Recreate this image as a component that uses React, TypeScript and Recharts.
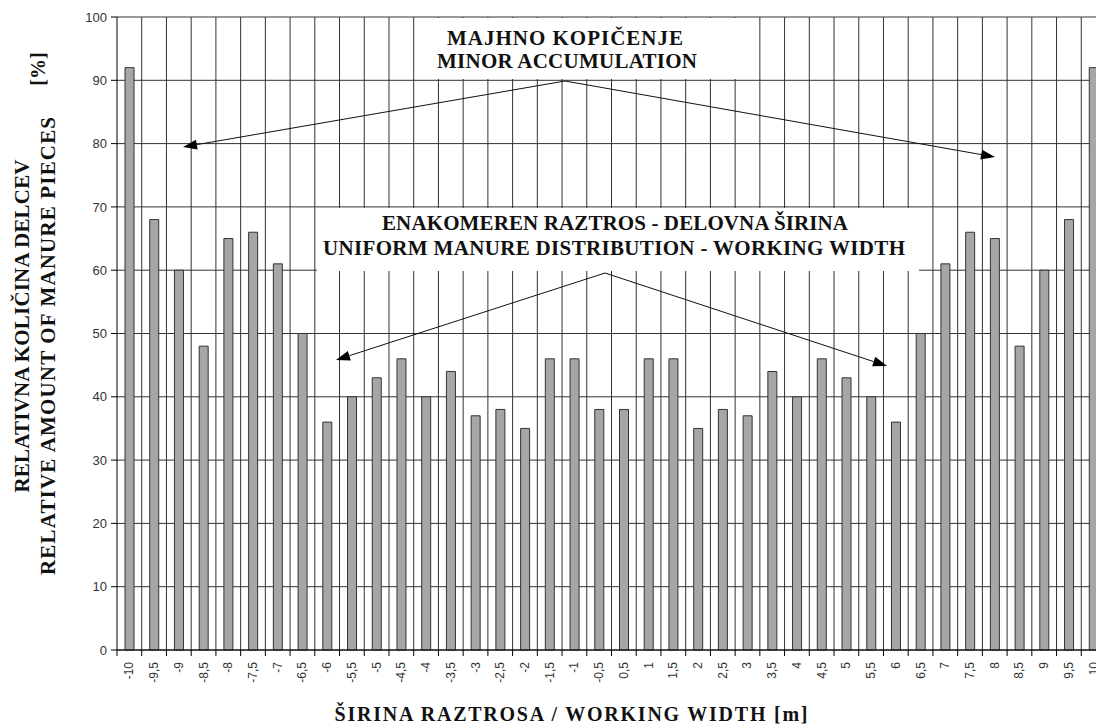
import { BarChart, Bar, XAxis, YAxis, CartesianGrid } from 'recharts';

// working width positions [m] (no 0 in the original)
const widths = [
  -10, -9.5, -9, -8.5, -8, -7.5, -7, -6.5, -6, -5.5, -5, -4.5, -4, -3.5, -3, -2.5, -2, -1.5, -1, -0.5,
  0.5, 1, 1.5, 2, 2.5, 3, 3.5, 4, 4.5, 5, 5.5, 6, 6.5, 7, 7.5, 8, 8.5, 9, 9.5, 10,
];
// relative amount of manure pieces [%]
const amounts = [
  92, 68, 60, 48, 65, 66, 61, 50, 36, 40, 43, 46, 40, 44, 37, 38, 35, 46, 46, 38,
  38, 46, 46, 35, 38, 37, 44, 40, 46, 43, 40, 36, 50, 61, 66, 65, 48, 60, 68, 92,
];
const yTicks = [0, 10, 20, 30, 40, 50, 60, 70, 80, 90, 100];

const data = widths.map((w, i) => ({ width: w, amount: amounts[i] }));

const CHART_W = 1110;
const CHART_H = 724;
const MARGIN = { top: 17, right: 4, left: 57, bottom: 12 };
const Y_AXIS_W = 60;
const X_AXIS_H = 62;
const PLOT_W = CHART_W - MARGIN.left - Y_AXIS_W - MARGIN.right;
const STEP = PLOT_W / widths.length;

const SANS = '"Liberation Sans", Arial, sans-serif';
const SERIF = '"Liberation Serif", "Times New Roman", Times, serif';

const fmt = (v: number) => String(v).replace('.', ',');

function WidthTick({ x, y, payload }: any) {
  const bx = x - STEP / 2;
  return (
    <g>
      <line x1={bx} x2={bx} y1={y - 12} y2={y - 6} stroke="#000" />
      <text
        x={x}
        y={y}
        transform={`rotate(-90 ${x} ${y})`}
        textAnchor="end"
        dominantBaseline="central"
        fontFamily={SANS}
        fontSize={12}
        fill="#333"
      >
        {fmt(payload.value)}
      </text>
    </g>
  );
}

function Arrow({ x1, y1, x2, y2 }: { x1: number; y1: number; x2: number; y2: number }) {
  const dx = x2 - x1;
  const dy = y2 - y1;
  const len = Math.hypot(dx, dy);
  const ux = dx / len;
  const uy = dy / len;
  const hl = 14;
  const hw = 5;
  const bx = x2 - ux * hl;
  const by = y2 - uy * hl;
  const pts = `${x2},${y2} ${bx - uy * hw},${by + ux * hw} ${bx + uy * hw},${by - ux * hw}`;
  return (
    <g>
      <line x1={x1} y1={y1} x2={bx} y2={by} stroke="#111" strokeWidth={1} />
      <polygon points={pts} fill="#000" />
    </g>
  );
}

function Overlay() {
  const bold = { fontFamily: SERIF, fontWeight: 700, fill: '#111' } as const;
  return (
    <svg
      width={1096}
      height={724}
      style={{ position: 'absolute', left: 0, top: 0, pointerEvents: 'none' }}
    >
      {/* minor accumulation box */}
      <rect x={415} y={18} width={322} height={61} fill="#fff" />
      <text x={565} y={45} textAnchor="middle" fontSize={21} textLength={236} lengthAdjust="spacing" {...bold}>
        MAJHNO KOPIČENJE
      </text>
      <text x={567} y={68} textAnchor="middle" fontSize={21} textLength={260} lengthAdjust="spacing" {...bold}>
        MINOR ACCUMULATION
      </text>
      <Arrow x1={565} y1={81} x2={183} y2={147} />
      <Arrow x1={565} y1={81} x2={995} y2={157} />

      {/* uniform distribution box */}
      <rect x={317} y={208} width={602} height={63} fill="#fff" />
      <text x={615} y={230} textAnchor="middle" fontSize={21} textLength={466} lengthAdjust="spacing" {...bold}>
        ENAKOMEREN RAZTROS - DELOVNA ŠIRINA
      </text>
      <text x={614} y={255} textAnchor="middle" fontSize={21} textLength={582} lengthAdjust="spacing" {...bold}>
        UNIFORM MANURE DISTRIBUTION - WORKING WIDTH
      </text>
      <Arrow x1={605} y1={273} x2={336} y2={360} />
      <Arrow x1={605} y1={273} x2={887} y2={366} />

      {/* y axis title */}
      <text
        x={22}
        y={326}
        transform="rotate(-90 22 326)"
        textAnchor="middle"
        dominantBaseline="central"
        fontSize={21}
        textLength={333}
        lengthAdjust="spacing"
        {...bold}
      >
        RELATIVNA KOLIČINA DELCEV
      </text>
      <text
        x={48}
        y={346}
        transform="rotate(-90 48 346)"
        textAnchor="middle"
        dominantBaseline="central"
        fontSize={21}
        textLength={458}
        lengthAdjust="spacing"
        {...bold}
      >
        RELATIVE AMOUNT OF MANURE PIECES
      </text>
      <text
        x={38}
        y={69}
        transform="rotate(-90 38 69)"
        textAnchor="middle"
        dominantBaseline="central"
        fontSize={20}
        {...bold}
      >
        [%]
      </text>

      {/* x axis title */}
      <text x={571} y={721} textAnchor="middle" fontSize={20} textLength={473} lengthAdjust="spacing" {...bold}>
        ŠIRINA RAZTROSA / WORKING WIDTH [m]
      </text>
    </svg>
  );
}

export default function App() {
  return (
    <div
      style={{
        position: 'fixed',
        left: 0,
        top: 0,
        width: 1096,
        height: 724,
        overflow: 'hidden',
        background: '#fff',
      }}
    >
      <BarChart width={CHART_W} height={CHART_H} data={data} margin={MARGIN} barCategoryGap={0}>
        <CartesianGrid
          stroke="#333"
          horizontalValues={yTicks}
          verticalCoordinatesGenerator={({ offset }: any) =>
            widths.map((_, i) => offset.left + (i + 1) * (offset.width / widths.length))
          }
        />
        <XAxis
          dataKey="width"
          type="category"
          interval={0}
          height={X_AXIS_H}
          tickLine={false}
          tickSize={6}
          tickMargin={6}
          axisLine={{ stroke: '#000' }}
          tick={<WidthTick />}
        />
        <YAxis
          width={Y_AXIS_W}
          domain={[0, 100]}
          ticks={yTicks}
          interval={0}
          tickSize={6}
          tickMargin={4}
          axisLine={{ stroke: '#000' }}
          tickLine={{ stroke: '#000' }}
          tick={{ fontFamily: SANS, fontSize: 13, fill: '#333' }}
        />
        <Bar
          dataKey="amount"
          barSize={9}
          fill="#a6a6a6"
          stroke="#333"
          strokeWidth={1}
          isAnimationActive={false}
        />
      </BarChart>
      <Overlay />
    </div>
  );
}
